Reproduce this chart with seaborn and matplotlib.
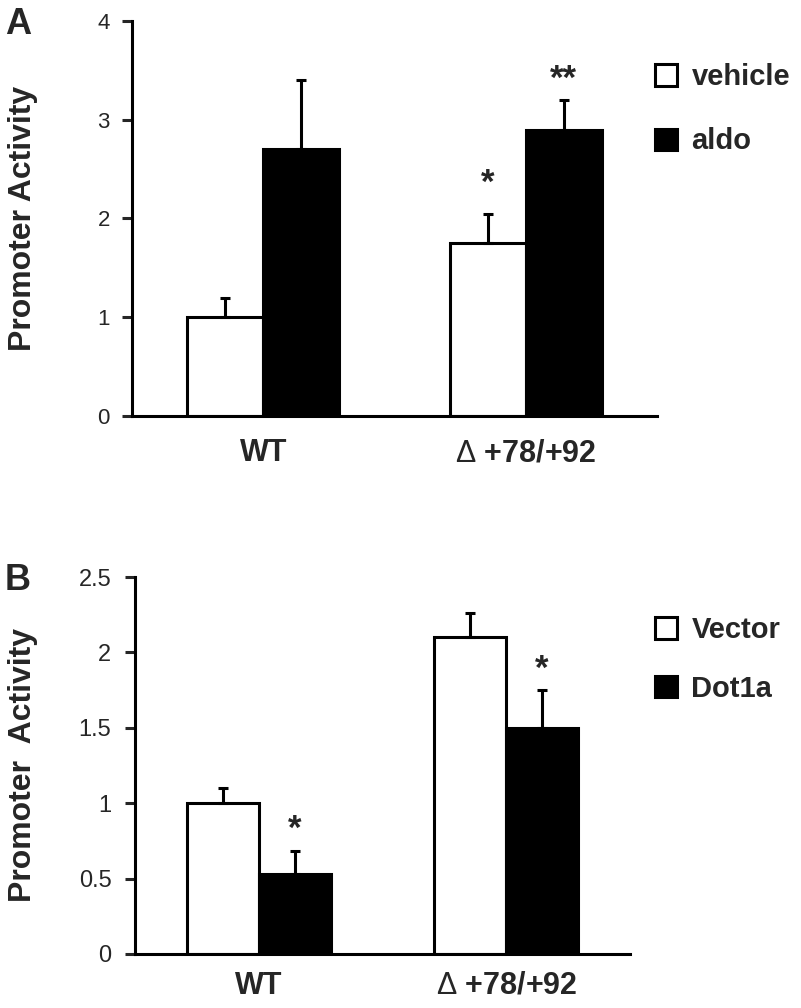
import numpy as np
import pandas as pd
import matplotlib
matplotlib.use("Agg")
import matplotlib.pyplot as plt
import seaborn as sns

sns.set_style("ticks")
plt.rcParams['font.family'] = ['Liberation Sans', 'DejaVu Sans']
plt.rcParams['mathtext.fontset'] = 'custom'
plt.rcParams['mathtext.rm'] = 'Liberation Sans'

# ---- data ----
groups = ['WT', r'$\Delta$ +78/+92']

# panel A
a_conditions = ['vehicle', 'aldo']
a_vehicle = [1.0, 1.75]
a_aldo = [2.7, 2.9]
a_vehicle_err = [0.2, 0.3]
a_aldo_err = [0.7, 0.3]
a_stars = [(1, 0, '*', 10), (1, 1, '**', 3)]   # (group idx, condition idx, text, offset pt)

# panel B
b_conditions = ['Vector', 'Dot1a']
b_vector = [1.0, 2.1]
b_dot1a = [0.53, 1.5]
b_vector_err = [0.1, 0.16]
b_dot1a_err = [0.15, 0.25]
b_stars = [(0, 1, '*', 4), (1, 1, '*', 3)]

LW = 2.2


def make_df(conds, vals):
    rows = []
    for c, v in zip(conds, vals):
        for g, y in zip(groups, v):
            rows.append({'group': g, 'cond': c, 'value': y})
    return pd.DataFrame(rows)


def panel(ax, conds, vals, errs, stars, ymax, yticks, ticklabels, tick_fs, tick_pad, xpad):
    df = make_df(conds, vals)
    sns.barplot(data=df, x='group', y='value', hue='cond', order=groups, hue_order=conds,
                palette=['white', 'black'], edgecolor='black', linewidth=LW,
                width=0.58, errorbar=None, ax=ax, legend=False, saturation=1)
    tops = {}
    bar_conts = list(ax.containers)
    for i, cont in enumerate(bar_conts):
        xs = [p.get_x() + p.get_width() / 2 for p in cont.patches]
        ys = [p.get_height() for p in cont.patches]
        ax.errorbar(xs, ys, yerr=[np.zeros(len(xs)), errs[i]], fmt='none', ecolor='black',
                    elinewidth=LW, capsize=3.6, capthick=LW, zorder=1)
        for j in range(len(xs)):
            tops[(j, i)] = (xs[j], ys[j] + errs[i][j])
    for g, c, t, off in stars:
        x, y = tops[(g, c)]
        ax.annotate(t, xy=(x, y), xytext=(0, off), textcoords='offset points',
                    ha='center', va='bottom', fontsize=25, fontweight='bold')
    ax.set_xlim(-0.5, 1.5)
    ax.set_ylim(0, ymax)
    ax.set_yticks(yticks)
    ax.set_yticklabels(ticklabels, fontsize=tick_fs)
    ax.set_xlabel('')
    ax.tick_params(axis='y', direction='out', length=7, width=LW, pad=tick_pad)
    ax.tick_params(axis='x', length=0, pad=xpad, labelsize=22)
    for lab in ax.get_xticklabels():
        lab.set_fontweight('bold')
    for s in ['top', 'right']:
        ax.spines[s].set_visible(False)
    for s in ['left', 'bottom']:
        ax.spines[s].set_linewidth(LW)
        ax.spines[s].set_color('black')


fig = plt.figure(figsize=(8.01, 10.08), dpi=100)
axA = fig.add_axes([132 / 801, 1 - 416 / 1008, 525 / 801, 395 / 1008])
axB = fig.add_axes([135 / 801, 1 - 954 / 1008, 495 / 801, 377 / 1008])

panel(axA, a_conditions, [a_vehicle, a_aldo], [a_vehicle_err, a_aldo_err], a_stars,
      4, [0, 1, 2, 3, 4], ['0', '1', '2', '3', '4'], 16, 9, 16)
axA.set_ylabel('Promoter Activity', fontsize=23, fontweight='bold', labelpad=43)

panel(axB, b_conditions, [b_vector, b_dot1a], [b_vector_err, b_dot1a_err], b_stars,
      2.5, [0, 0.5, 1, 1.5, 2, 2.5], ['0', '0.5', '1', '1.5', '2', '2.5'], 17, 10, 12)
axB.set_ylabel('Promoter  Activity', fontsize=23, fontweight='bold', labelpad=29)

# legends
for ax, conds, top, sp in [(axA, a_conditions, 63, 1.25), (axB, b_conditions, 616, 1.05)]:
    handles = [plt.Rectangle((0, 0), 1, 1, facecolor=fc, edgecolor='black', linewidth=LW)
               for fc in ['white', 'black']]
    fig.legend(handles, conds, loc='upper left', bbox_to_anchor=(655 / 801, 1 - top / 1008),
               frameon=False, borderpad=0, borderaxespad=0, handlelength=0.75, handleheight=0.75,
               handletextpad=0.5, labelspacing=sp, prop={'size': 21, 'weight': 'bold'})

fig.text(18 / 801, 1 - 25 / 1008, 'A', fontsize=26, fontweight='bold', ha='center', va='center')
fig.text(18 / 801, 1 - 580 / 1008, 'B', fontsize=26, fontweight='bold', ha='center', va='center')

fig.savefig('out.png', dpi=100)
